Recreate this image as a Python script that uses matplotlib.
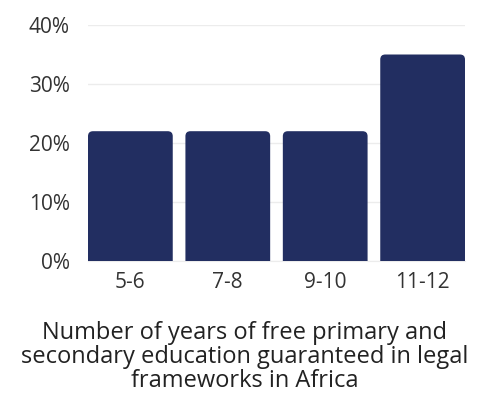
import matplotlib
matplotlib.use("Agg")
import matplotlib.pyplot as plt
from matplotlib.path import Path
from matplotlib.patches import PathPatch

categories = ["5-6", "7-8", "9-10", "11-12"]
values = [22, 22, 22, 35]
y_ticks = [0, 10, 20, 30, 40]
caption = ("Number of years of free primary and\n"
           "secondary education guaranteed in legal\n"
           "frameworks in Africa")

bar_color = "#222e61"
text_color = "#333333"
plt.rcParams["font.family"] = ["Open Sans", "DejaVu Sans"]

fig = plt.figure(figsize=(4.89, 4.09), dpi=100)
ax = fig.add_axes([88 / 489, 1 - 261 / 409, 377 / 489, (261 - 25) / 409])

width = 0.87
x = list(range(len(categories)))
bars = ax.bar(x, values, width=width, color=bar_color, zorder=3)

ax.set_xlim(-width / 2, len(categories) - 1 + width / 2)
ax.set_ylim(0, 40)


def rounded_top(x0, y0, w, h, rx, ry):
    x1, y1 = x0 + w, y0 + h
    verts = [
        (x0, y0), (x0, y1 - ry), (x0, y1), (x0 + rx, y1),
        (x1 - rx, y1), (x1, y1), (x1, y1 - ry), (x1, y0), (x0, y0),
    ]
    codes = [
        Path.MOVETO, Path.LINETO, Path.CURVE3, Path.CURVE3,
        Path.LINETO, Path.CURVE3, Path.CURVE3, Path.LINETO, Path.CLOSEPOLY,
    ]
    return Path(verts, codes)


# convert a corner radius in pixels to data units on each axis
fig.canvas.draw()
bbox = ax.get_window_extent()
px_x = bbox.width / (ax.get_xlim()[1] - ax.get_xlim()[0])
px_y = bbox.height / (ax.get_ylim()[1] - ax.get_ylim()[0])
radius_px = 5
for rect in bars.patches:
    rect.set_visible(False)
    path = rounded_top(rect.get_x(), rect.get_y(), rect.get_width(),
                       rect.get_height(), radius_px / px_x, radius_px / px_y)
    ax.add_patch(PathPatch(path, facecolor=bar_color, edgecolor="none", zorder=3))

ax.set_yticks(y_ticks)
ax.set_yticklabels([f"{v}%" for v in y_ticks])
ax.set_xticks(x)
ax.set_xticklabels(categories)
ax.grid(axis="y", color="#ececec", linewidth=1, zorder=0)
for side in ["top", "right", "left"]:
    ax.spines[side].set_visible(False)
ax.spines["bottom"].set_color("#ececec")
ax.tick_params(axis="both", length=0, labelsize=15, colors=text_color)
ax.tick_params(axis="y", pad=13)
ax.tick_params(axis="x", pad=8)

fig.text(0.5, 1 - 357 / 409, caption, ha="center", va="center",
         fontsize=17, color="#222222", linespacing=0.98)

fig.savefig("out.png", dpi=100, facecolor="white")
